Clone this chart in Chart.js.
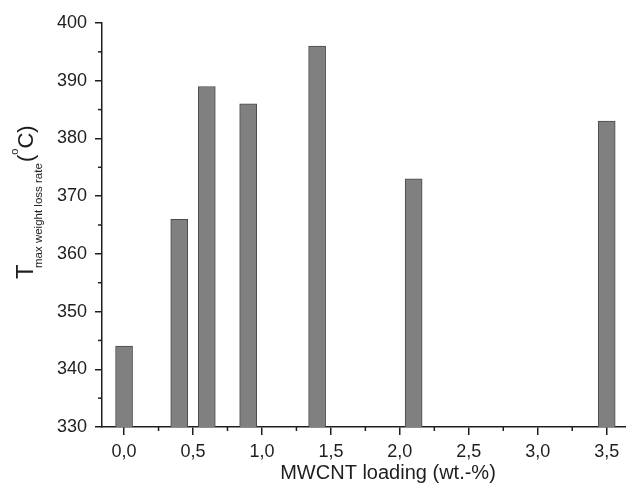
<!DOCTYPE html>
<html>
<head>
<meta charset="utf-8">
<script src="https://cdn.jsdelivr.net/npm/chart.js@4.4.1/dist/chart.umd.min.js"></script>
<style>
  html, body { margin: 0; padding: 0; background: #fff; }
  #wrap { width: 626px; height: 493px; }
</style>
</head>
<body>
<div id="wrap"><canvas id="c" width="626" height="493"></canvas></div>
<script>
// MWCNT loading (wt.-%) for each sample
const loadings = [0.0, 0.4, 0.6, 0.9, 1.4, 2.1, 3.5];
// Temperature of maximum weight loss rate (°C)
const tmax = [344, 366, 389, 386, 396, 373, 383];
// Tick values
const xMajorTicks = [0, 0.5, 1.0, 1.5, 2.0, 2.5, 3.0, 3.5];
const xMinorTicks = [0.25, 0.75, 1.25, 1.75, 2.25, 2.75, 3.25];
const yMajorTicks = [330, 340, 350, 360, 370, 380, 390, 400];
const yMinorTicks = [335, 345, 355, 365, 375, 385, 395];
const xTitle = 'MWCNT loading (wt.-%)';
const yTitleMain = 'T';
const yTitleSub = 'max weight loss rate';

const FONT = "'Liberation Sans', Arial, sans-serif";
const INK = '#1e1e1e';

const extras = {
  id: 'extras',
  afterDraw(chart) {
    const ctx = chart.ctx;
    const xs = chart.scales.x, ys = chart.scales.y;
    const area = chart.chartArea;
    ctx.save();
    ctx.strokeStyle = INK;
    ctx.lineWidth = 1.5;
    yMinorTicks.forEach(v => {
      const p = ys.getPixelForValue(v);
      ctx.beginPath(); ctx.moveTo(area.left - 4, p); ctx.lineTo(area.left, p); ctx.stroke();
    });
    xMinorTicks.forEach(v => {
      const p = xs.getPixelForValue(v);
      ctx.beginPath(); ctx.moveTo(p, area.bottom); ctx.lineTo(p, area.bottom + 4); ctx.stroke();
    });
    // x-axis title
    ctx.fillStyle = INK;
    ctx.textBaseline = 'alphabetic';
    ctx.textAlign = 'center';
    ctx.font = '20px ' + FONT;
    ctx.fillText(xTitle, 388, 479);
    // y-axis title (rotated, with subscript and superscript)
    ctx.textAlign = 'left';
    ctx.translate(33, 279);
    ctx.rotate(-Math.PI / 2);
    ctx.font = '24px ' + FONT;
    ctx.fillText(yTitleMain, 0, 0);
    ctx.font = '11.5px ' + FONT;
    ctx.fillText(yTitleSub, 11, 9);
    let pos = 117;
    ctx.font = '22px ' + FONT;
    ctx.fillText('(', pos, 0);
    pos += ctx.measureText('(').width;
    ctx.font = '11px ' + FONT;
    ctx.fillText('o', pos, -15);
    pos += ctx.measureText('o').width;
    ctx.font = '22px ' + FONT;
    ctx.fillText('C)', pos, 0);
    ctx.restore();
  }
};

const data = loadings.map((x, i) => ({ x: x, y: tmax[i] }));

new Chart(document.getElementById('c'), {
  type: 'bar',
  data: {
    datasets: [{
      data: data,
      backgroundColor: '#808080',
      borderColor: '#4a4a4a',
      borderWidth: 1,
      barThickness: 17
    }]
  },
  options: {
    responsive: false,
    animation: false,
    layout: { padding: { top: 23, right: 0, left: 0, bottom: 0 } },
    plugins: { legend: { display: false }, tooltip: { enabled: false } },
    scales: {
      x: {
        type: 'linear',
        offset: false,
        min: -0.16,
        max: 3.64,
        afterFit(scale) { scale.height = 66; },
        afterBuildTicks(scale) { scale.ticks = xMajorTicks.map(v => ({ value: v })); },
        ticks: {
          includeBounds: false,
          color: INK,
          font: { family: FONT, size: 18 },
          padding: 6,
          maxRotation: 0,
          autoSkip: false,
          callback: v => Number(v).toFixed(1).replace('.', ',')
        },
        grid: { offset: false, drawOnChartArea: false, drawTicks: true, tickLength: 8, color: INK, lineWidth: 1.5 },
        border: { display: true, color: INK, width: 1.5 }
      },
      y: {
        type: 'linear',
        min: 330,
        max: 400,
        afterFit(scale) { scale.width = 102; },
        afterBuildTicks(scale) { scale.ticks = yMajorTicks.map(v => ({ value: v })); },
        ticks: {
          includeBounds: false,
          color: INK,
          font: { family: FONT, size: 18 },
          padding: 8,
          autoSkip: false,
          callback: v => String(v)
        },
        grid: { drawOnChartArea: false, drawTicks: true, tickLength: 7, color: INK, lineWidth: 1.5 },
        border: { display: true, color: INK, width: 1.5 }
      }
    }
  },
  plugins: [extras]
});
</script>
</body>
</html>
